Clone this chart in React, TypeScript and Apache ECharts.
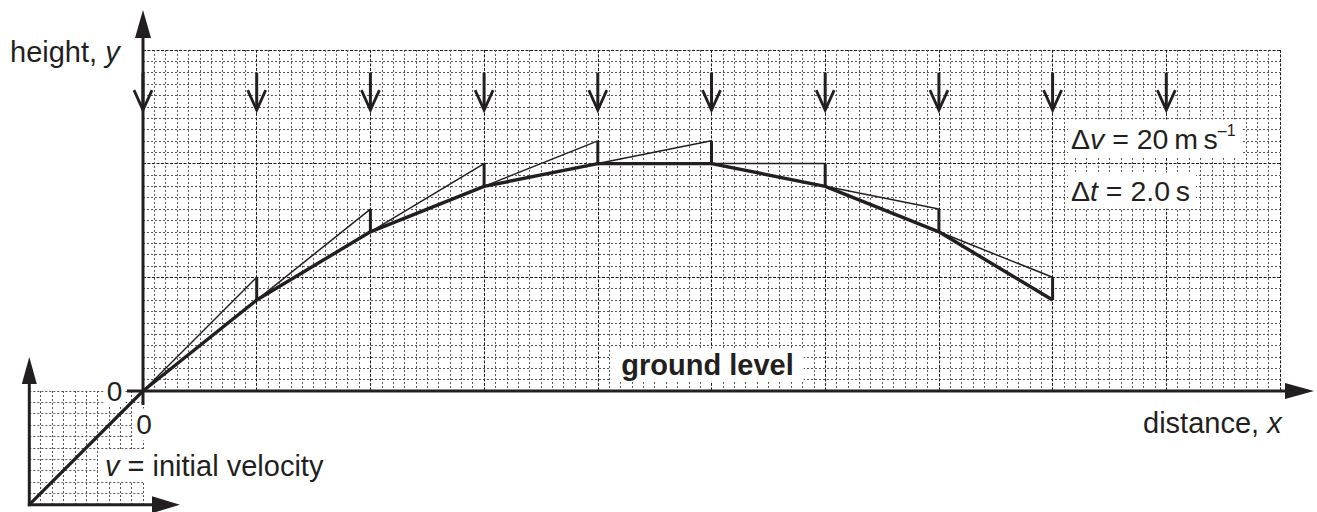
import React, { useEffect, useRef } from "react";
import * as echarts from "echarts";

// ---------------- data (grid units: 1 unit = one small square) ----------------
const stepX = [0, 10, 20, 30, 40, 50, 60, 70, 80];
const heightY = [0, 8, 14, 18, 20, 20, 18, 14, 8];
// top of each vertical Δv correction, drawn at stepX[k + 1]
const projectedY = [10, 16, 20, 22, 22, 20, 16, 10];
const gravityArrowX = [0, 10, 20, 30, 40, 50, 60, 70, 80, 90];
const initialVelocity = [10, 10];

// ---------------- layout ----------------
const U = 11.37; // px per small square
const OX = 143; // origin x (px)
const OY = 391; // origin y (px)
const X_UNITS = 100;
const Y_UNITS = 30;
const INSET_UNITS = 10;
const ARROW_TOP = 28;
const ARROW_TIP = 24.7;
const INK = "#231f20";
const FONT = "'Liberation Sans', Arial, Helvetica, sans-serif";
const THIN = "\u2009";

const IX = OX - INSET_UNITS * U;
const IY = OY + INSET_UNITS * U;

const minorLine = { color: "#555555", width: 1, type: [2, 2] as any };
const majorLine = { color: "#1a1a1a", width: 1, type: [3, 1.5] as any };

function valueAxis(gridIndex: number, max: number, interval: number, minor: boolean) {
  return {
    type: "value",
    gridIndex,
    min: 0,
    max,
    interval,
    axisLine: { show: false },
    axisTick: { show: false },
    axisLabel: { show: false },
    splitLine: { show: true, lineStyle: minor ? majorLine : minorLine },
    minorTick: { show: false, splitNumber: 10 },
    minorSplitLine: { show: minor, lineStyle: minorLine },
  };
}

const segRender = (width: number) => (_p: any, api: any) => {
  const a = api.coord([api.value(0), api.value(1)]);
  const b = api.coord([api.value(2), api.value(3)]);
  return {
    type: "line",
    shape: { x1: a[0], y1: a[1], x2: b[0], y2: b[1] },
    style: { stroke: INK, lineWidth: width, fill: "none" },
  };
};

const gLine = (x1: number, y1: number, x2: number, y2: number, w = 3) => ({
  type: "line",
  z: 5,
  silent: true,
  shape: { x1, y1, x2, y2 },
  style: { stroke: INK, lineWidth: w },
});
const gTri = (pts: number[][]) => ({
  type: "polygon",
  z: 5,
  silent: true,
  shape: { points: pts },
  style: { fill: INK, stroke: "none" },
});
const base = (size: number, extra: any = {}) => ({
  fontSize: size,
  fontFamily: FONT,
  fill: INK,
  ...extra,
});
const gText = (x: number, y: number, style: any) => ({
  type: "text",
  z: 10,
  silent: true,
  x,
  y,
  style: { fill: INK, fontFamily: FONT, verticalAlign: "middle", ...style },
});

export default function App() {
  const ref = useRef<HTMLDivElement>(null);
  useEffect(() => {
    if (!ref.current) return;
    const chart = echarts.init(ref.current, undefined, { renderer: "svg" });

    const thinData = stepX.slice(0, -1).map((x, k) => [x, heightY[k], stepX[k + 1], projectedY[k]]);
    const tickData = projectedY.map((t, k) => [stepX[k + 1], t, stepX[k + 1], heightY[k + 1]]);

    chart.setOption({
      animation: false,
      backgroundColor: "#ffffff",
      grid: [
        { left: OX, top: OY - Y_UNITS * U, width: X_UNITS * U, height: Y_UNITS * U, outerBoundsMode: "none", containLabel: false },
        { left: IX, top: OY, width: INSET_UNITS * U, height: INSET_UNITS * U, outerBoundsMode: "none", containLabel: false },
      ],
      xAxis: [valueAxis(0, X_UNITS, 10, true), valueAxis(1, INSET_UNITS, 1, false)],
      yAxis: [valueAxis(0, Y_UNITS, 10, true), valueAxis(1, INSET_UNITS, 1, false)],
      series: [
        {
          type: "line",
          name: "trajectory",
          xAxisIndex: 0,
          yAxisIndex: 0,
          data: stepX.map((x, k) => [x, heightY[k]]),
          symbol: "none",
          silent: true,
          z: 4,
          lineStyle: { color: INK, width: 3.4, join: "round" },
          itemStyle: { color: INK },
        },
        {
          type: "custom",
          name: "velocity steps",
          xAxisIndex: 0,
          yAxisIndex: 0,
          dimensions: ["x1", "y1", "x2", "y2"],
          encode: { x: [0, 2], y: [1, 3] },
          data: thinData,
          silent: true,
          z: 3,
          renderItem: segRender(1.5),
        },
        {
          type: "custom",
          name: "delta v",
          xAxisIndex: 0,
          yAxisIndex: 0,
          dimensions: ["x1", "y1", "x2", "y2"],
          encode: { x: [0, 2], y: [1, 3] },
          data: tickData,
          silent: true,
          z: 3,
          renderItem: segRender(3),
        },
        {
          type: "custom",
          name: "gravity",
          xAxisIndex: 0,
          yAxisIndex: 0,
          dimensions: ["x", "tip", "top"],
          encode: { x: 0, y: [1, 2] },
          data: gravityArrowX.map((x) => [x, ARROW_TIP, ARROW_TOP]),
          silent: true,
          z: 6,
          renderItem: (_p: any, api: any) => {
            const top = api.coord([api.value(0), api.value(2)]);
            const tip = api.coord([api.value(0), api.value(1)]);
            return {
              type: "group",
              children: [
                {
                  type: "line",
                  shape: { x1: top[0], y1: top[1], x2: tip[0], y2: tip[1] - 1 },
                  style: { stroke: INK, lineWidth: 3, fill: "none" },
                },
                {
                  type: "polyline",
                  shape: {
                    points: [
                      [tip[0] - 9, tip[1] - 20],
                      [tip[0], tip[1]],
                      [tip[0] + 9, tip[1] - 20],
                    ],
                  },
                  style: { stroke: INK, lineWidth: 2.8, fill: "none", lineJoin: "miter" },
                },
              ],
            };
          },
        },
        {
          type: "line",
          name: "initial velocity",
          xAxisIndex: 1,
          yAxisIndex: 1,
          data: [[0, 0], initialVelocity],
          symbol: "none",
          silent: true,
          clip: false,
          z: 4,
          lineStyle: { color: INK, width: 3.2 },
        },
      ],
      graphic: [
        // main axes
        gLine(OX, OY + 14, OX, 37),
        gTri([[OX, 10], [OX - 8, 38], [OX + 8, 38]]),
        gLine(OX - 16, OY, 1288, OY),
        gTri([[1314, OY], [1285, OY - 8], [1285, OY + 8]]),
        // inset axes
        gLine(IX, IY + 1.5, IX, 384),
        gTri([[IX, 357], [IX - 7.5, 384], [IX + 7.5, 384]]),
        gLine(IX - 1.5, IY, 153, IY),
        gTri([[180, IY], [152, IY - 8.5], [152, IY + 8.5]]),
        // texts
        gText(10, 52, {
          text: "{r|height, }{i|y}",
          align: "left",
          rich: { r: base(29), i: base(29, { fontStyle: "italic" }) },
        }),
        gText(1143, 423, {
          text: "{r|distance, }{i|x}",
          align: "left",
          rich: { r: base(29), i: base(29, { fontStyle: "italic" }) },
        }),
        gText(114.5, OY, {
          text: "0",
          fontSize: 28,
          align: "center",
          backgroundColor: "#ffffff",
          padding: [2, 3],
        }),
        gText(OX + 1, 424.5, {
          text: "0",
          fontSize: 28,
          align: "center",
          backgroundColor: "#ffffff",
          padding: [2, 3],
        }),
        gText(98, 466, {
          text: "{i|v}{r| = initial velocity}",
          align: "left",
          backgroundColor: "#ffffff",
          padding: [1, 4, 1, 7],
          rich: { r: base(29), i: base(29, { fontStyle: "italic" }) },
        }),
        gText(707.5, 365, {
          text: "ground level",
          fontSize: 29,
          fontWeight: "bold",
          align: "center",
          backgroundColor: "#ffffff",
          padding: [2, 10],
        }),
        gText(1068, 138.5, {
          text: `{r|Δ}{i|v}{r| = 20${THIN}m${THIN}s}{s|–1}`,
          align: "left",
          backgroundColor: "#ffffff",
          padding: [3, 6, 3, 3],
          rich: {
            r: base(28.5, { lineHeight: 32 }),
            i: base(28.5, { fontStyle: "italic", lineHeight: 32 }),
            s: base(16, { lineHeight: 14, verticalAlign: "top" }),
          },
        }),
        gText(1068, 190.5, {
          text: `{r|Δ}{i|t}{r| = 2.0${THIN}s}`,
          align: "left",
          backgroundColor: "#ffffff",
          padding: [3, 6, 3, 3],
          rich: {
            r: base(28.5, { lineHeight: 30 }),
            i: base(28.5, { fontStyle: "italic", lineHeight: 30 }),
          },
        }),
      ],
    });
    return () => chart.dispose();
  }, []);
  return (
    <div
      ref={ref}
      style={{ position: "absolute", left: 0, top: 0, width: 1317, height: 512, background: "#fff" }}
    />
  );
}
